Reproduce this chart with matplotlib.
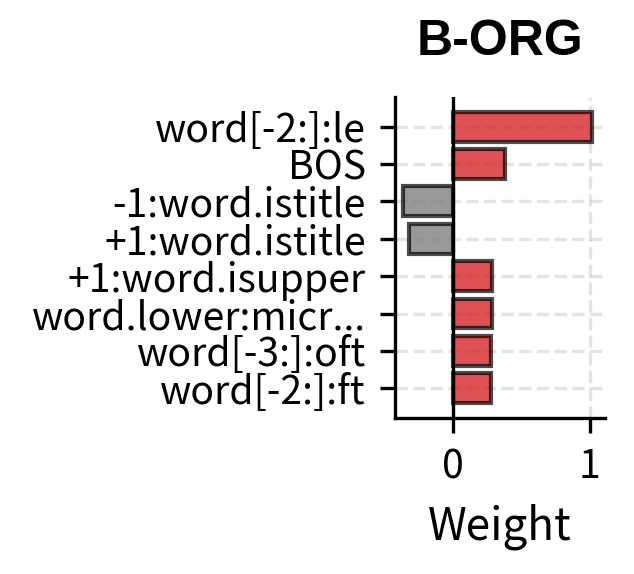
import numpy as np
import matplotlib
matplotlib.use("Agg")
import matplotlib.pyplot as plt

plt.rcParams['font.family'] = ['Noto Sans CJK JP', 'DejaVu Sans']

# top feature weights for B-ORG
features = ["word[-2:]:le", "BOS", "-1:word.istitle", "+1:word.istitle",
            "+1:word.isupper", "word.lower:micr...", "word[-3:]:oft", "word[-2:]:ft"]
weights = [1.02, 0.385, -0.36, -0.32, 0.29, 0.29, 0.28, 0.28]
title = "B-ORG"

colors = [(0.84, 0.15, 0.16, 0.8) if w > 0 else (0.5, 0.5, 0.5, 0.8) for w in weights]

fig = plt.figure(figsize=(634 / 300, 574 / 300), dpi=300)
ax = fig.add_axes([0.623, 0.272, 0.331, 0.559])

y = np.arange(len(features))
ax.barh(y, weights, color=colors, edgecolor=(0, 0, 0, 0.7), linewidth=1.0, zorder=3)
ax.axvline(0, color="black", linewidth=0.8, zorder=4)

ax.set_yticks(y)
ax.set_yticklabels(features, fontsize=9.4)
ax.invert_yaxis()
ax.set_xlim(-0.42, 1.11)
ax.set_xticks([0, 1])
ax.tick_params(axis='x', labelsize=9.4)
ax.set_xlabel("Weight", fontsize=10.6)
ax.set_title(title, fontsize=12, fontweight="bold", family="Liberation Sans", pad=10)

ax.grid(True, linestyle="--", color="lightgray", alpha=0.6, zorder=0)
ax.spines['top'].set_visible(False)
ax.spines['right'].set_visible(False)

fig.savefig("out.png", dpi=300)
